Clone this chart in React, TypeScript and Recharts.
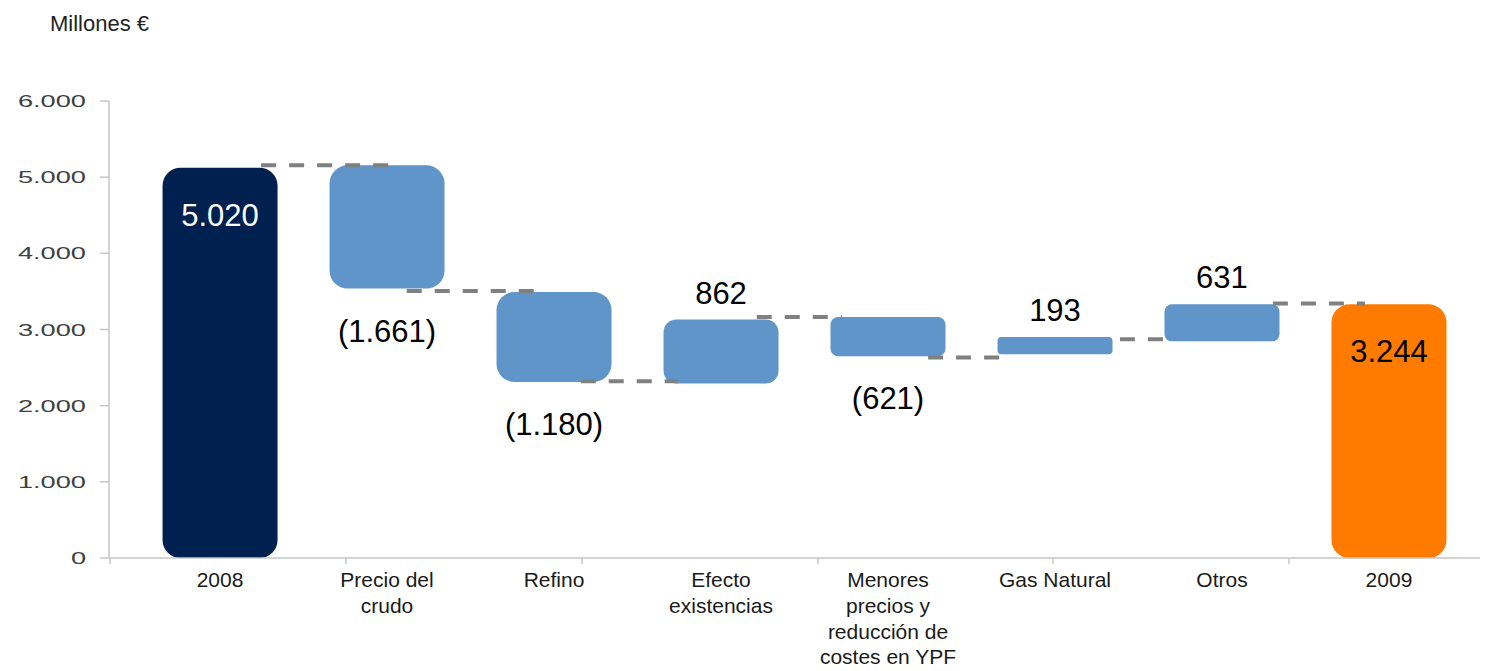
import { BarChart, Bar, XAxis, YAxis, Cell, LabelList, ReferenceLine } from 'recharts';

const categories = [
  '2008',
  'Precio del\ncrudo',
  'Refino',
  'Efecto\nexistencias',
  'Menores\nprecios y\nreducción de\ncostes en YPF',
  'Gas Natural',
  'Otros',
  '2009',
];
// bar bottoms / tops as drawn in the picture (Millones €)
const barLow = [0, 3537, 2311, 2290, 2648, 2674, 2845, 0];
const barHigh = [5125, 5155, 3492, 3130, 3164, 2901, 3331, 3331];
const valueLabels = ['5.020', '(1.661)', '(1.180)', '862', '(621)', '193', '631', '3.244'];
const kinds = ['start', 'down', 'down', 'up', 'down', 'up', 'up', 'end'];

// dashed connectors: from / to on the category scale, level in Millones €
const connFrom = [0.246, 1.118, 2.16, 3.214, 4.24, 5.389, 6.305];
const connTo = [1.012, 1.88, 2.743, 3.723, 4.671, 5.659, 6.856];
const connValue = [5155, 3504, 2320, 3164, 2631, 2871, 3340];

const yTicks = [0, 1000, 2000, 3000, 4000, 5000, 6000];
const xGridTicks = [-0.659, 0.754, 2.168, 3.581, 4.988, 6.401];

const colors: Record<string, string> = {
  start: '#00214f',
  down: '#6095c9',
  up: '#6095c9',
  end: '#ff7b00',
};

const FONT = '"Liberation Sans", Arial, sans-serif';

const rows = categories.map((name, i) => ({ idx: i, name, range: [barLow[i], barHigh[i]] }));

const fmtThousands = (v: number) => String(v).replace(/\B(?=(\d{3})+(?!\d))/g, '.');

function RoundBar(props: any) {
  const { x, width, fill } = props;
  let { y, height } = props;
  if (height < 0) {
    y = y + height;
    height = -height;
  }
  const r = Math.min(18, Math.max(4, height * 0.2), width / 2);
  return <rect x={x} y={y} width={width} height={height} rx={r} ry={r} fill={fill} />;
}

function YTick({ x, y, payload }: any) {
  return (
    <g transform={`translate(${x},${y})`}>
      <text transform="scale(1.6,1)" textAnchor="end" dy={6} fontSize={17} fill="#404040" fontFamily={FONT}>
        {fmtThousands(payload.value)}
      </text>
    </g>
  );
}

function XTick({ x, y, payload }: any) {
  const v = payload.value;
  if (!Number.isInteger(v)) {
    return <line x1={x} x2={x} y1={y} y2={y + 6} stroke="#c6c6c6" strokeWidth={1.5} />;
  }
  const lines = categories[v].split('\n');
  return (
    <text x={x} y={y} textAnchor="middle" fontSize={21} fill="#1a1a1a" fontFamily={FONT}>
      {lines.map((t, i) => (
        <tspan key={i} x={x} y={y + 29 + i * 25.8}>
          {t}
        </tspan>
      ))}
    </text>
  );
}

function ValueLabel(props: any) {
  const { x, y, width, height, index } = props;
  const kind = kinds[index];
  const top = Math.min(y, y + height);
  const bottom = Math.max(y, y + height);
  const cx = x + width / 2;
  let ty = top + 58;
  let fill = '#000';
  if (kind === 'start') fill = '#fff';
  if (kind === 'up') ty = top - 16;
  if (kind === 'down') ty = bottom + 53;
  return (
    <text x={cx} y={ty} textAnchor="middle" fontSize={31} fill={fill} fontFamily={FONT}>
      {valueLabels[index]}
    </text>
  );
}

export default function App() {
  return (
    <div style={{ position: 'relative', width: 1480, height: 663 }}>
      <div
        style={{
          position: 'absolute',
          left: 42,
          top: 5,
          fontSize: 22,
          lineHeight: '22px',
          fontFamily: FONT,
          color: '#222',
        }}
      >
        Millones €
      </div>
      <BarChart width={1480} height={663} data={rows} margin={{ top: 93, right: 0, bottom: 0, left: 0 }}>
        <XAxis
          type="number"
          dataKey="idx"
          domain={[-0.665, 7.593]}
          allowDataOverflow
          ticks={[...xGridTicks, ...categories.map((_, i) => i)].sort((a, b) => a - b)}
          interval={0}
          tickLine={false}
          tickSize={0}
          tickMargin={0}
          tick={<XTick />}
          height={113}
          axisLine={{ stroke: '#c6c6c6', strokeWidth: 1.5 }}
        />
        <YAxis
          domain={[0, 6000]}
          ticks={yTicks}
          interval={0}
          width={101}
          tickSize={9}
          tickMargin={14}
          tick={<YTick />}
          tickLine={{ stroke: '#c6c6c6', strokeWidth: 1.5 }}
          axisLine={{ stroke: '#c6c6c6', strokeWidth: 1.5 }}
        />
        <Bar dataKey="range" barSize={115} shape={<RoundBar />} isAnimationActive={false}>
          {rows.map((_, i) => (
            <Cell key={i} fill={colors[kinds[i]]} />
          ))}
          <LabelList dataKey="range" content={<ValueLabel />} />
        </Bar>
        {connValue.map((v, i) => (
          <ReferenceLine
            key={i}
            segment={[
              { x: connFrom[i], y: v },
              { x: connTo[i], y: v },
            ]}
            stroke="#808080"
            strokeWidth={4}
            strokeDasharray="15 13"
          />
        ))}
      </BarChart>
    </div>
  );
}
